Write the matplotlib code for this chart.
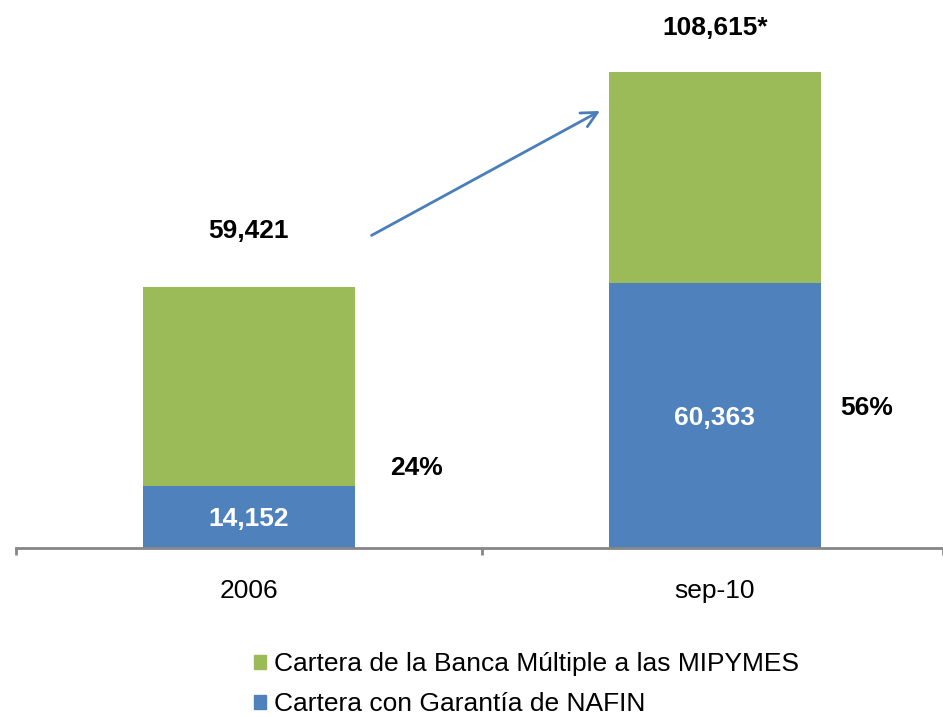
import matplotlib
matplotlib.use("Agg")

import matplotlib.pyplot as plt
from matplotlib.patches import Patch

plt.rcParams["font.family"] = ["Liberation Sans", "DejaVu Sans"]

# Datos (millones de pesos)
periodos = ["2006", "sep-10"]
garantia_nafin = [14152, 60363]
total_banca = [59421, 108615]
etiquetas_total = ["59,421", "108,615*"]
etiquetas_nafin = ["14,152", "60,363"]
participacion = ["24%", "56%"]
resto_banca = [t - n for t, n in zip(total_banca, garantia_nafin)]

azul = "#4F81BD"
verde = "#9BBB59"
gris = "#868686"

fig = plt.figure(figsize=(9.43, 7.17), dpi=100)
ax = fig.add_axes([16 / 943, 169 / 717, 927 / 943, 548 / 717])

x = range(len(periodos))
ax.bar(x, garantia_nafin, width=0.456, color=azul)
ax.bar(x, resto_banca, width=0.456, bottom=garantia_nafin, color=verde)

ax.set_xlim(-0.5, 1.49)
ax.set_ylim(0, 125000)

# posiciones de las etiquetas (como en la lámina original)
y_total = [72300, 118600]
y_nafin = [6600, 29700]
x_pct = [0.36, 0.327]
y_pct = [18300, 32000]

for i in x:
    ax.text(i, y_total[i], etiquetas_total[i], ha="center", va="center",
            fontsize=19, fontweight="bold")
    ax.text(i, y_nafin[i], etiquetas_nafin[i], ha="center", va="center",
            fontsize=19, fontweight="bold", color="white")
    ax.text(i + x_pct[i], y_pct[i], participacion[i],
            ha="center", va="center", fontsize=19, fontweight="bold")

# flecha de crecimiento
ax.annotate("", xy=(0.759, 100000), xytext=(0.258, 71000),
            arrowprops=dict(arrowstyle="->", color="#4A7EBB", lw=2, mutation_scale=28))

for lado in ["top", "right", "left"]:
    ax.spines[lado].set_visible(False)
ax.spines["bottom"].set_color(gris)
ax.spines["bottom"].set_linewidth(2)
ax.set_yticks([])
ax.set_xticks(list(x))
ax.set_xticklabels(periodos, fontsize=19)
ax.tick_params(axis="x", which="major", length=0, pad=22)
ax.set_xticks([-0.5, 0.5, 1.49], minor=True)
ax.tick_params(axis="x", which="minor", length=5, width=2, color=gris)

handles = [Patch(color=verde), Patch(color=azul)]
labels = ["Cartera de la Banca Múltiple a las MIPYMES", "Cartera con Garantía de NAFIN"]
fig.legend(handles, labels, loc="upper left", bbox_to_anchor=(236 / 943, 1 - 634 / 717),
           frameon=False, fontsize=19, handlelength=0.45, handleheight=0.45,
           handletextpad=0.3, labelspacing=0.6, borderpad=0.2)

fig.savefig("out.png", dpi=100)
plt.close(fig)
